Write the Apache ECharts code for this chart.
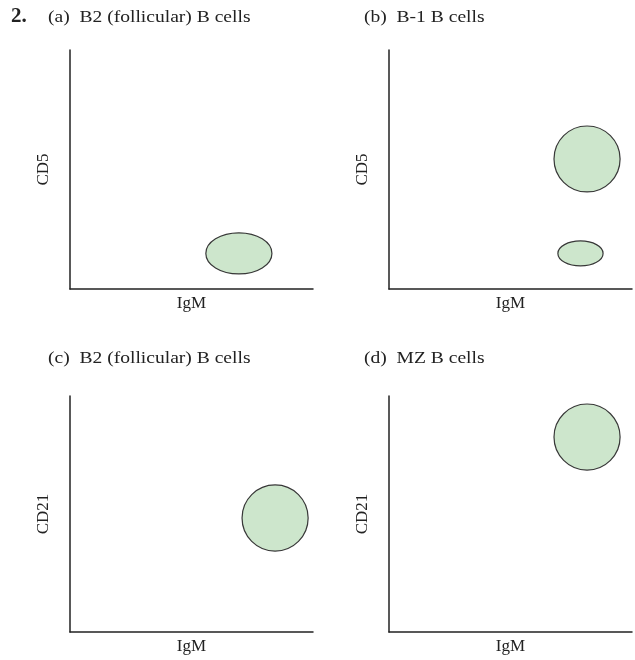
<!DOCTYPE html>
<html><head><meta charset="utf-8">
<script src="https://cdn.jsdelivr.net/npm/echarts@6/dist/echarts.min.js"></script>
<style>html,body{margin:0;padding:0;background:#fff}#c{width:635px;height:660px}</style>
</head><body><div id="c"></div>
<script>
// Panel titles and axis names
const panelTitles = ['(a)  B2 (follicular) B cells', '(b)  B-1 B cells', '(c)  B2 (follicular) B cells', '(d)  MZ B cells'];
const xNames = ['IgM', 'IgM', 'IgM', 'IgM'];
const yNames = ['CD5', 'CD5', 'CD21', 'CD21'];
// Populations per panel: [centerIgM, centerY, radiusX, radiusY] in axis units (0–100)
const panelA = [[69.5, 14.9, 13.6, 8.6]];
const panelB = [[81.5, 54.4, 13.6, 13.8], [78.8, 14.9, 9.3, 5.2]];
const panelC = [[84.4, 48.3, 13.6, 14.0]];
const panelD = [[81.5, 82.6, 13.6, 14.0]];
const panels = [panelA, panelB, panelC, panelD];

const font = '"Liberation Serif", "DejaVu Serif", serif';
const grids = [
  {left: 70, top: 50, width: 243, height: 239},
  {left: 389, top: 50, width: 243, height: 239},
  {left: 70, top: 396, width: 243, height: 236},
  {left: 389, top: 396, width: 243, height: 236}
];
const axisLine = {show: true, onZero: false, lineStyle: {color: '#222', width: 1.5}};
const xAxis = grids.map((g, i) => ({
  type: 'value', gridIndex: i, min: 0, max: 100,
  axisLine, axisTick: {show: false}, axisLabel: {show: false}, splitLine: {show: false},
  name: xNames[i], nameLocation: 'middle', nameGap: 6,
  nameTextStyle: {fontFamily: font, fontSize: 17, color: '#222'}
}));
const yAxis = grids.map((g, i) => ({
  type: 'value', gridIndex: i, min: 0, max: 100,
  axisLine, axisTick: {show: false}, axisLabel: {show: false}, splitLine: {show: false},
  name: yNames[i], nameLocation: 'middle', nameGap: 18,
  nameTextStyle: {fontFamily: font, fontSize: 17, color: '#222'}
}));
const series = panels.map((d, i) => ({
  type: 'custom', xAxisIndex: i, yAxisIndex: i, data: d,
  renderItem: function (params, api) {
    const c = api.coord([api.value(0), api.value(1)]);
    const s = api.size([api.value(2), api.value(3)]);
    return {type: 'ellipse', shape: {cx: c[0], cy: c[1], rx: s[0], ry: s[1]},
      style: {fill: '#cde6cc', stroke: '#383838', lineWidth: 1.2}};
  }
}));
const titleText = (txt, x, y) => ({type: 'text', x: x, y: y, scaleX: 1.15,
  style: {text: txt, font: '17px ' + font, fill: '#222'}});
const chart = echarts.init(document.getElementById('c'));
chart.setOption({
  animation: false,
  grid: grids,
  xAxis, yAxis, series,
  graphic: [
    {type: 'text', x: 11, y: 6, style: {text: '2.', font: 'bold 21px ' + font, fill: '#222'}},
    titleText(panelTitles[0], 48, 9),
    titleText(panelTitles[1], 364, 9),
    titleText(panelTitles[2], 48, 350),
    titleText(panelTitles[3], 364, 350)
  ]
});
</script></body></html>
